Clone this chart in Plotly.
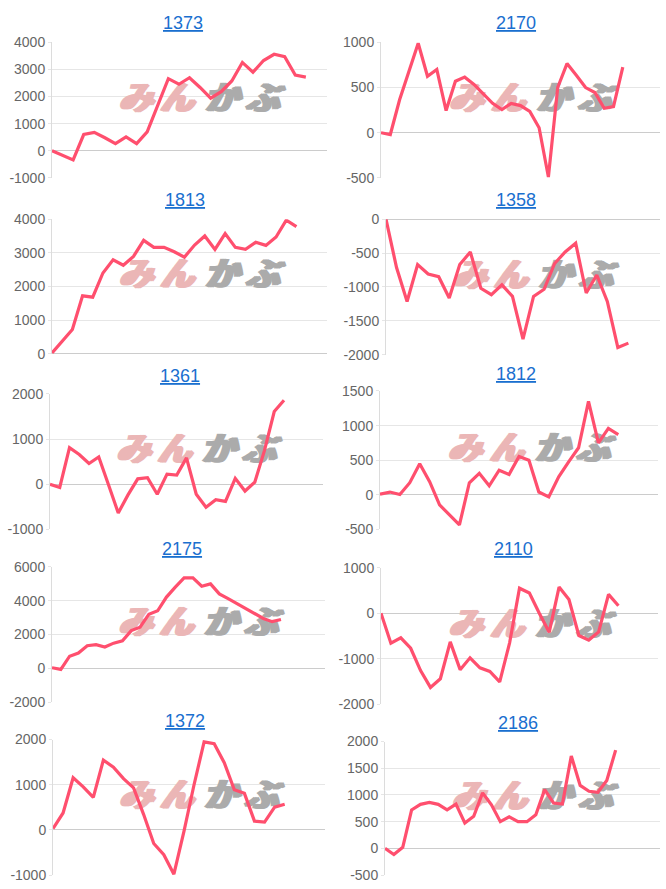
import plotly.graph_objects as go

# ---- data ----
titles = ["1373", "2170", "1813", "1358", "1361", "1812", "2175", "2110", "1372", "2186"]

s1373 = [0, -155, -335, 600, 680, 480, 265, 515, 265, 695, 1680, 2660, 2455, 2695, 2335,
         1940, 2180, 2575, 3260, 2900, 3330, 3560, 3475, 2790, 2720]
s2170 = [0, -20, 365, 670, 990, 625, 700, 245, 570, 615, 535, 430, 325, 255, 325, 300, 235,
         55, -490, 500, 765, 635, 500, 445, 270, 290, 725]
s1813 = [20, 380, 720, 1720, 1680, 2400, 2790, 2630, 2890, 3370, 3160, 3160, 3030, 2870, 3230,
         3500, 3100, 3570, 3160, 3100, 3310, 3220, 3470, 3970, 3780]
s1358 = [0, -715, -1215, -670, -810, -850, -1165, -670, -485, -1020, -1115, -970, -1140, -1770,
         -1140, -1035, -655, -485, -355, -1090, -825, -1215, -1895, -1830]
s1361 = [0, -70, 810, 660, 460, 605, -10, -635, -235, 120, 145, -220, 225, 205, 585, -220, -510,
         -340, -380, 130, -150, 45, 750, 1610, 1860]
s1812 = [10, 40, 5, 175, 450, 190, -145, -285, -435, 175, 310, 130, 355, 295, 555, 500, 40, -30,
         260, 475, 680, 1350, 750, 960, 870]
s2175 = [40, -60, 720, 910, 1340, 1400, 1260, 1490, 1630, 2230, 2430, 3200, 3400, 4210, 4800,
         5340, 5340, 4850, 4990, 4400, 4120, 3830, 3530, 3280, 2950, 2760, 2890]
s2110 = [0, -660, -540, -770, -1260, -1630, -1440, -630, -1240, -980, -1200, -1280, -1510, -650,
         550, 445, 0, -420, 575, 300, -490, -590, -410, 415, 165]
s1372 = [30, 375, 1155, 955, 720, 1545, 1390, 1135, 930, 340, -300, -550, -980, -30, 1000, 1950,
         1910, 1490, 890, 810, 195, 175, 505, 570]
s2186 = [0, -115, 20, 720, 825, 860, 825, 720, 830, 475, 600, 1040, 815, 500, 590, 500, 500, 630,
         1100, 850, 830, 1730, 1180, 1070, 1050, 1270, 1840]

series = [s1373, s2170, s1813, s1358, s1361, s1812, s2175, s2110, s1372, s2186]

# number of label slots (x categories) in each chart
label_counts = [27, 31, 28, 27, 29, 29, 32, 29, 28, 32]

# y axis ranges and tick steps
y_min = [-1000, -500, 0, -2000, -1000, -500, -2000, -2000, -1000, -500]
y_max = [4000, 1000, 4000, 0, 2000, 1500, 6000, 1000, 2000, 2000]
y_step = [1000, 500, 1000, 500, 1000, 500, 2000, 1000, 1000, 500]

# watermark text
wm_pink = ["み", "ん"]
wm_gray = ["か", "ぶ"]

# ---- layout geometry (pixels) ----
W, H = 666, 889
boxes = [  # x0, x1, y0(top), y1(bottom)
    (52, 327, 35, 173), (381, 660, 35, 173),
    (52, 327, 215, 352), (386, 660, 215, 353),
    (50, 323, 393, 531), (380, 658, 390, 531),
    (52, 325, 569, 707), (381, 658, 570, 709),
    (53, 325, 745, 883), (385, 660, 747, 883),
]
title_pos = [(183, 15), (516, 15), (185, 196), (516, 196), (180, 375),
             (516, 373), (182, 551), (513, 551), (185, 726), (518, 728)]

LINE = "#ff4f6e"
TICKFONT = dict(family="Liberation Sans, Arial, sans-serif", size=14, color="#666666")
PINK = "#ebb6b6"
GRAY = "#ababab"
pink_fx = [0.304, 0.453]
gray_fx = [0.615, 0.764]
wm_fy = 0.565

fig = go.Figure()
annotations = []
layout = {}


def wm_font(col):
    return dict(family="Noto Sans CJK JP", size=34, color=col, weight="bold",
                style="italic",
                shadow=f"1.5px 0 0 {col}, -1.5px 0 0 {col}, 3px 0 0 {col}")


for i, (name, vals) in enumerate(zip(titles, series)):
    k = "" if i == 0 else str(i + 1)
    x0, x1, yt, yb = boxes[i]
    xd = [x0 / W, x1 / W]
    yd = [1 - yb / H, 1 - yt / H]
    labels = list(range(label_counts[i]))
    xs = labels[:len(vals)]
    span_x = labels[-1] - labels[0]
    wy = y_min[i] + wm_fy * (y_max[i] - y_min[i])

    # watermark (drawn beneath the line)
    fig.add_trace(go.Scatter(
        x=[labels[0] + f * span_x for f in pink_fx], y=[wy, wy], text=wm_pink,
        mode="text", textfont=wm_font(PINK), textposition="middle center",
        xaxis="x" + k, yaxis="y" + k, showlegend=False, hoverinfo="skip", cliponaxis=False))
    fig.add_trace(go.Scatter(
        x=[labels[0] + f * span_x for f in gray_fx], y=[wy, wy], text=wm_gray,
        mode="text", textfont=wm_font(GRAY), textposition="middle center",
        xaxis="x" + k, yaxis="y" + k, showlegend=False, hoverinfo="skip", cliponaxis=False))

    fig.add_trace(go.Scatter(
        x=xs, y=vals, mode="lines",
        line=dict(color=LINE, width=3.2),
        xaxis="x" + k, yaxis="y" + k, showlegend=False, hoverinfo="skip"))

    tv = list(range(y_min[i], y_max[i] + y_step[i], y_step[i]))
    layout["xaxis" + k] = dict(
        domain=xd, anchor="y" + k, range=[labels[0], labels[-1]],
        showgrid=False, zeroline=False, showticklabels=False, showline=False,
        fixedrange=True)
    layout["yaxis" + k] = dict(
        domain=yd, anchor="x" + k, range=[y_min[i], y_max[i]],
        tickmode="array", tickvals=tv, ticktext=[str(v) for v in tv],
        showgrid=True, gridcolor="#e6e6e6", gridwidth=1,
        zeroline=True, zerolinecolor="#cccccc", zerolinewidth=1,
        showline=True, linecolor="#dcdcdc", linewidth=1,
        ticks="outside", ticklen=3, tickcolor="#e6e6e6",
        tickfont=TICKFONT, fixedrange=True)
    tx, ty = title_pos[i]
    annotations.append(dict(
        text="<u>" + name + "</u>", x=tx / W, y=1 - ty / H, xref="paper", yref="paper",
        xanchor="center", yanchor="middle", showarrow=False,
        font=dict(family="Liberation Sans, Arial, sans-serif", size=18, color="#1a6fcf")))

fig.update_layout(
    width=W, height=H, margin=dict(l=0, r=0, t=0, b=0),
    paper_bgcolor="white", plot_bgcolor="white",
    annotations=annotations, **layout)

fig.write_html("out.html", config={"displayModeBar": False})
